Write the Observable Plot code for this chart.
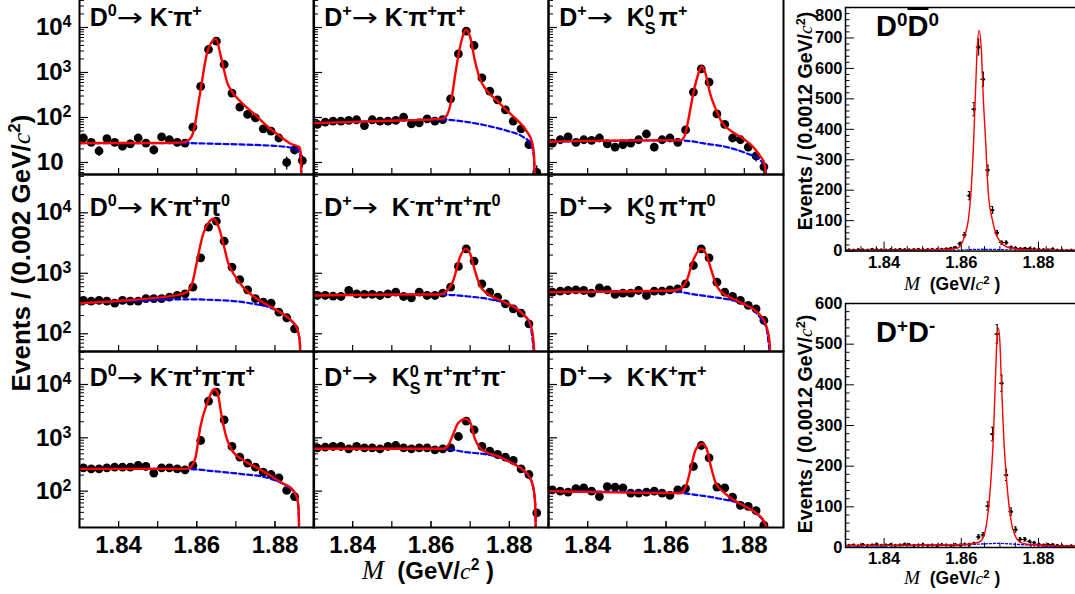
<!DOCTYPE html>
<html><head><meta charset="utf-8">
<script src="https://cdn.jsdelivr.net/npm/d3@7"></script>
<script src="https://cdn.jsdelivr.net/npm/@observablehq/plot@0.6"></script>
<style>
html,body{margin:0;padding:0;background:#fff;}
body{width:1075px;height:594px;overflow:hidden;position:relative;font-family:"Liberation Sans",Arial,sans-serif;}
.pan{position:absolute;}
.pan svg{display:block;overflow:visible;}
.lab{position:absolute;font-weight:bold;line-height:1;white-space:nowrap;color:#000;}
.lab sup{font-size:65%;vertical-align:baseline;position:relative;top:-0.58em;line-height:0;}
.arr{font-weight:normal;font-family:"DejaVu Sans",sans-serif;display:inline-block;transform:scaleX(1.25);margin:0 0.12em 0 0.08em;}
.it{font-family:"Liberation Serif",serif;font-style:italic;font-weight:normal;}
.stk{display:inline-block;position:relative;width:0.56em;height:0.7em;vertical-align:baseline;}
.stk .u,.stk .d{position:absolute;left:0;font-size:65%;line-height:1;}
.stk .u{bottom:6.5px;}
.stk .d{bottom:-10px;}
.rot{transform:translate(-50%,-50%) rotate(-90deg);}
.ov{text-decoration:overline;text-decoration-thickness:2px;}
</style></head><body>
<script>
// ---------- data ----------
const binsLeft = [1.831,1.833,1.835,1.837,1.839,1.841,1.843,1.845,1.847,1.849,1.851,1.853,1.855,1.857,1.859,1.861,1.863,1.865,1.867,1.869,1.871,1.873,1.875,1.877,1.879,1.881,1.883,1.885,1.887,1.889];

const c_D0_Kpi      = [35,28,18,34,28,23,26,35,27,19,37,32,28,27,61,489,3245,4960,1506,348,170,117,98,56,50,35,10,19,11,null];
const c_Dp_Kpipi    = [70,79,83,83,86,89,66,89,83,83,86,102,72,76,93,83,90,260,2600,8300,3980,760,385,247,148,83,56,25,6,null];
const c_Dp_KSpi     = [27,32,37,28,32,31,35,26,22,25,27,32,43,22,32,35,28,53,366,1205,610,120,70,35,32,22,14,8,null,null];
const c_D0_Kpipi0   = [356,347,356,347,321,356,347,347,380,380,380,404,430,458,590,1800,5800,7280,3400,1265,782,534,380,334,321,228,184,121,null,null];
const c_Dp_Kpipipi0 = [430,430,420,414,520,458,447,447,430,458,489,414,394,489,430,430,470,590,1300,2540,1590,670,489,404,313,259,220,146,null,null];
const c_Dp_KSpipi0  = [489,507,520,534,520,470,575,534,447,470,470,520,430,507,507,534,554,670,1346,2540,1800,714,489,414,356,294,259,166,null,null];
const c_D0_K3pi     = [274,262,262,274,282,282,282,303,290,218,274,274,262,251,303,891,4870,7180,2175,688,434,335,282,227,205,178,103,79,null,null];
const c_Dp_KS3pi    = [649,668,688,688,622,688,649,649,622,688,718,649,622,649,649,596,622,649,1059,2054,1413,688,562,487,434,376,262,205,39,null];
const c_Dp_KKpi     = [106,100,96,111,115,100,79,122,119,115,92,92,96,100,92,83,106,111,290,718,422,119,115,77,54,52,43,23,null,null];

const f_D0_Kpi = [[1.830,27],[1.850,27],[1.8565,28],[1.8582,33],[1.8594,60],[1.8603,180],[1.8611,480],[1.8628,3080],[1.8649,5600],[1.8662,2190],[1.8679,560],[1.8687,412],[1.8713,219],[1.8747,120],[1.8781,63],[1.8815,37],[1.8840,26],[1.8862,22],[1.8866,16],[1.8868,1]];
const b_D0_Kpi = [[1.830,27],[1.855,27],[1.865,26],[1.875,24.5],[1.881,23],[1.8845,21],[1.8860,18],[1.8866,12],[1.8869,1]];
const f_Dp_Kpipi = [[1.830,75],[1.852,86],[1.8625,93],[1.8638,105],[1.8650,200],[1.8664,1200],[1.8678,5140],[1.8689,8900],[1.8700,6100],[1.8712,1850],[1.8725,725],[1.8742,400],[1.8768,240],[1.8793,144],[1.8819,90],[1.8844,50],[1.8858,28],[1.8863,15],[1.8866,1]];
const b_Dp_Kpipi = [[1.830,75],[1.852,86],[1.8625,90],[1.869,80],[1.8742,66],[1.8793,51],[1.8835,37],[1.8855,26],[1.8862,15],[1.8868,1]];
const f_Dp_KSpi = [[1.830,29],[1.852,31],[1.8636,31],[1.8648,40],[1.8656,80],[1.8670,355],[1.8680,790],[1.8691,1360],[1.8701,950],[1.8712,355],[1.8725,170],[1.8742,80],[1.8771,47],[1.8797,34],[1.8823,22],[1.8840,14],[1.8852,9],[1.8857,2]];
const b_Dp_KSpi = [[1.830,29],[1.8636,31],[1.8704,26],[1.8755,22],[1.8805,16],[1.8839,11.5],[1.8853,8],[1.8858,2]];
const f_D0_Kpipi0 = [[1.830,321],[1.8439,365],[1.8558,447],[1.8575,489],[1.8588,670],[1.8601,1630],[1.8614,3960],[1.8631,7010],[1.8643,7960],[1.8656,5800],[1.8669,2880],[1.8681,1440],[1.8694,982],[1.8720,575],[1.8754,380],[1.8788,283],[1.8813,228],[1.8839,172],[1.8856,125],[1.8863,78],[1.8866,20]];
const b_D0_Kpipi0 = [[1.830,321],[1.8439,350],[1.8575,372],[1.8651,360],[1.8694,347],[1.8745,313],[1.8788,270],[1.8822,205],[1.8856,122],[1.8864,70],[1.8867,20]];
const f_Dp_Kpipipi0 = [[1.830,430],[1.852,447],[1.8623,447],[1.8640,507],[1.8657,762],[1.8674,1850],[1.8689,2540],[1.8700,2100],[1.8712,1115],[1.8725,630],[1.8742,470],[1.8768,379],[1.8793,321],[1.8819,259],[1.8840,195],[1.8853,150],[1.8861,85],[1.8866,30]];
const b_Dp_Kpipipi0 = [[1.830,430],[1.852,447],[1.8623,445],[1.8695,414],[1.8742,380],[1.8793,315],[1.8827,240],[1.8853,140],[1.8866,30]];
const f_Dp_KSpipi0 = [[1.830,489],[1.8619,520],[1.8636,554],[1.8653,762],[1.8670,1670],[1.8691,2540],[1.8704,1970],[1.8716,1115],[1.8729,630],[1.8750,447],[1.8771,379],[1.8797,313],[1.8822,259],[1.8843,195],[1.8856,135],[1.8865,68],[1.8867,20]];
const b_Dp_KSpipi0 = [[1.830,489],[1.8619,507],[1.8662,458],[1.8721,404],[1.8771,356],[1.8805,300],[1.8839,190],[1.8856,125],[1.8866,40]];
const f_D0_K3pi = [[1.830,262],[1.8575,262],[1.8588,303],[1.8597,434],[1.8609,1585],[1.8626,4340],[1.8645,8200],[1.8653,7000],[1.8664,2440],[1.8677,955],[1.8690,579],[1.8720,376],[1.8754,274],[1.8788,197],[1.8822,137],[1.8843,111],[1.8856,77],[1.8860,50],[1.8862,10]];
const b_D0_K3pi = [[1.830,262],[1.8575,260],[1.8643,237],[1.8711,211],[1.8780,178],[1.8831,122],[1.8852,89],[1.8860,50],[1.8863,10]];
const f_Dp_KS3pi = [[1.830,622],[1.8631,622],[1.8644,718],[1.8657,1190],[1.8669,1880],[1.8688,2270],[1.8700,1966],[1.8712,955],[1.8725,649],[1.8742,538],[1.8776,434],[1.8810,325],[1.8835,251],[1.8852,183],[1.8861,119],[1.8866,58],[1.8868,10]];
const b_Dp_KS3pi = [[1.830,622],[1.8631,622],[1.8690,538],[1.8742,487],[1.8793,387],[1.8835,245],[1.8857,150],[1.8866,58],[1.8868,10]];
const f_Dp_KKpi = [[1.830,100],[1.8432,96],[1.8636,92],[1.8645,100],[1.8653,137],[1.8664,282],[1.8675,579],[1.8692,772],[1.8703,649],[1.8713,325],[1.8726,148],[1.8747,96],[1.8772,69],[1.8806,50],[1.8832,38],[1.8849,28],[1.8856,21],[1.8858,8]];
const b_Dp_KKpi = [[1.830,100],[1.8636,92],[1.8687,83],[1.8738,72],[1.8789,58],[1.8832,37],[1.8853,24],[1.8857,8]];

const titlesHTML = [
 'D<sup>0</sup><span class="arr">→</span> K<sup>-</sup>π<sup>+</sup>',
 'D<sup>+</sup><span class="arr">→</span> K<sup>-</sup>π<sup>+</sup>π<sup>+</sup>',
 'D<sup>+</sup><span class="arr">→</span>&nbsp; K<span class="stk"><span class="u">0</span><span class="d">S</span></span>π<sup>+</sup>',
 'D<sup>0</sup><span class="arr">→</span> K<sup>-</sup>π<sup>+</sup>π<sup>0</sup>',
 'D<sup>+</sup><span class="arr">→</span>&nbsp; K<sup>-</sup>π<sup>+</sup>π<sup>+</sup>π<sup>0</sup>',
 'D<sup>+</sup><span class="arr">→</span>&nbsp; K<span class="stk"><span class="u">0</span><span class="d">S</span></span>π<sup>+</sup>π<sup>0</sup>',
 'D<sup>0</sup><span class="arr">→</span> K<sup>-</sup>π<sup>+</sup>π<sup>-</sup>π<sup>+</sup>',
 'D<sup>+</sup><span class="arr">→</span>&nbsp; K<span class="stk"><span class="u">0</span><span class="d">S</span></span>π<sup>+</sup>π<sup>+</sup>π<sup>-</sup>',
 'D<sup>+</sup><span class="arr">→</span>&nbsp; K<sup>-</sup>K<sup>+</sup>π<sup>+</sup>'
];

const binsRight = [1.8309,1.8321,1.8333,1.8345,1.8357,1.8369,1.8381,1.8393,1.8405,1.8417,1.8429,1.8441,1.8453,1.8465,1.8477,1.8489,1.8501,1.8513,1.8525,1.8537,1.8549,1.8561,1.8573,1.8585,1.8597,1.8609,1.8621,1.8633,1.8645,1.8657,1.8669,1.8681,1.8693,1.8705,1.8717,1.8729,1.8741,1.8753,1.8765,1.8777,1.8789,1.8801,1.8813,1.8825,1.8837,1.8849,1.8861,1.8873,1.8885,1.8897];
const c_D0D0bar = [4,3,5,4,3,6,5,4,3,5,4,6,5,4,5,6,4,5,6,5,6,7,9,12,24,53,182,466,670,564,266,135,60,28,28,13,10,8,9,8,7,6,5,4,7,3,3,2,3,2];
const c_DpDm = [5,6,4,7,5,6,8,5,6,7,5,6,8,7,5,6,7,5,6,5,7,6,5,7,6,8,7,10,26,31,102,279,525,404,178,88,44,20,20,15,12,8,6,7,7,5,4,3,4,3];
const f_D0D0bar = [[1.830,3],[1.850,3.5],[1.856,5],[1.8591,10],[1.8603,30],[1.8610,55],[1.8618,100],[1.8625,190],[1.8632,362],[1.8637,530],[1.8641,660],[1.8646,725],[1.8652,660],[1.8656,530],[1.8663,362],[1.8670,190],[1.8681,100],[1.8690,55],[1.8702,30],[1.8726,10],[1.876,5],[1.880,3.5],[1.890,2.5]];
const b_D0D0bar = [[1.830,1],[1.850,1.5],[1.858,2.5],[1.862,4.5],[1.865,6],[1.868,5.5],[1.872,4],[1.876,2.5],[1.880,1.5],[1.890,0.5]];
const f_DpDm = [[1.830,5],[1.855,6],[1.862,8],[1.8647,14],[1.8659,30],[1.8665,55],[1.8671,100],[1.8677,170],[1.8683,270],[1.8689,430],[1.8692,505],[1.8696,540],[1.8700,505],[1.8703,430],[1.8710,270],[1.8717,170],[1.8724,100],[1.8731,55],[1.8739,30],[1.8752,13],[1.877,8],[1.882,5],[1.890,3]];
const b_DpDm = [[1.830,4],[1.850,5],[1.860,6.5],[1.865,8.5],[1.8695,10],[1.874,8],[1.878,5.5],[1.882,3],[1.890,1]];

const yTitleLeft = 'Events / (0.002 GeV/<span class="it">c</span><sup>2</sup>)';
const yTitleRight = 'Events / (0.0012 GeV/<span class="it">c</span><sup>2</sup>)';
const xTitle = '<span class="it" style="font-size:1.1em">M</span>&nbsp; (GeV/<span class="it">c</span><sup>2</sup> )';

// ---------- layout ----------
const NS = "http://www.w3.org/2000/svg";
const FONT = "'Liberation Sans', Arial, sans-serif";
const COLS = [{x0:78.7,w:234.6},{x0:313.3,w:235},{x0:548.3,w:235}];
const ROWS = [{y0:-2,h:176,dom:[5.41,44100],base:26},{y0:174,h:177,dom:[51,42950],base:216},{y0:351,h:176,dom:[20.8,41600],base:386}];
const panels = [
  {counts:c_D0_Kpi, fit:f_D0_Kpi, bkg:b_D0_Kpi},
  {counts:c_Dp_Kpipi, fit:f_Dp_Kpipi, bkg:b_Dp_Kpipi},
  {counts:c_Dp_KSpi, fit:f_Dp_KSpi, bkg:b_Dp_KSpi},
  {counts:c_D0_Kpipi0, fit:f_D0_Kpipi0, bkg:b_D0_Kpipi0},
  {counts:c_Dp_Kpipipi0, fit:f_Dp_Kpipipi0, bkg:b_Dp_Kpipipi0},
  {counts:c_Dp_KSpipi0, fit:f_Dp_KSpipi0, bkg:b_Dp_KSpipi0},
  {counts:c_D0_K3pi, fit:f_D0_K3pi, bkg:b_D0_K3pi},
  {counts:c_Dp_KS3pi, fit:f_Dp_KS3pi, bkg:b_Dp_KS3pi},
  {counts:c_Dp_KKpi, fit:f_Dp_KKpi, bkg:b_Dp_KKpi}
];

function mount(svg, left, top) {
  const d = document.createElement("div");
  d.className = "pan"; d.style.left = left + "px"; d.style.top = top + "px";
  d.appendChild(svg); document.body.appendChild(d);
}
function label(html, x, baseline, size) {
  const d = document.createElement("div");
  d.className = "lab"; d.innerHTML = html;
  d.style.fontSize = size + "px";
  d.style.left = x + "px";
  d.style.top = (baseline - 0.8465 * size) + "px";
  document.body.appendChild(d);
  return d;
}
function rotLabel(html, cx, cy, size) {
  const d = document.createElement("div");
  d.className = "lab rot"; d.innerHTML = html;
  d.style.fontSize = size + "px";
  d.style.left = cx + "px"; d.style.top = cy + "px";
  document.body.appendChild(d);
}
function supFix(svg) {
  svg.querySelectorAll("text").forEach(t => {
    const s = t.textContent;
    if (s.indexOf("^") > 0) {
      const [b, e] = s.split("^");
      while (t.firstChild) t.removeChild(t.firstChild);
      const a = document.createElementNS(NS, "tspan"); a.textContent = b;
      const c = document.createElementNS(NS, "tspan"); c.textContent = e;
      c.setAttribute("dy", "-8"); c.setAttribute("font-size", "16");
      t.append(a, c);
    } else if (s === "10") t.setAttribute("dx", "-8");
  });
}
const styleSvg = {background:"transparent", overflow:"visible", fontFamily:FONT, maxWidth:"none"};

function logPanel(p, ci, ri) {
  const C = COLS[ci], R = ROWS[ri];
  const mL = 80, mR = 4, mT = 4, mB = 50;
  const [lo, hi] = R.dom;
  const pts = binsLeft.map((m, i) => ({m, n: p.counts[i]})).filter(d => d.n != null);
  const majors = [10, 100, 1000, 10000].filter(v => v >= lo && v <= hi);
  const minors = [];
  for (let e = 0; e < 5; e++) for (let k = 2; k <= 9; k++) { const v = k * Math.pow(10, e); if (v > lo && v < hi) minors.push(v); }
  const marks = [
    Plot.axisY({ticks: minors, tickSize: -5, fill: null, label: null, strokeWidth: 1}),
    Plot.axisY({ticks: majors, tickSize: -9, tickPadding: 17, label: null, strokeWidth: 1.2,
      fill: ci === 0 ? "black" : null, fontSize: 24, fontWeight: "bold",
      tickFormat: v => { const e = Math.round(Math.log10(v)); return e === 1 ? "10" : "10^" + e; }}),
    Plot.axisX({ticks: [1.83,1.84,1.85,1.86,1.87,1.88,1.89], tickSize: -6, fill: null, label: null, strokeWidth: 1.2})
  ];
  if (ri === 2) marks.push(Plot.axisX({ticks: [1.84,1.86,1.88], tickSize: -6, tickPadding: 14, label: null, fontSize: 24, fontWeight: "bold", tickFormat: d => d.toFixed(2)}));
  marks.push(
    Plot.ruleX(pts, {x: "m", y1: d => Math.max(d.n - Math.sqrt(d.n), lo / 2), y2: d => d.n + Math.sqrt(d.n), stroke: "black", strokeWidth: 1.3, clip: true}),
    Plot.dot(pts, {x: "m", y: "n", r: 4.4, fill: "black", stroke: "none", clip: true}),
    Plot.line(p.bkg, {x: d => d[0], y: d => d[1], stroke: "#0000ff", strokeWidth: 2.2, strokeDasharray: "5,3", curve: "monotone-x", clip: true}),
    Plot.line(p.fit, {x: d => d[0], y: d => d[1], stroke: "#ff0000", strokeWidth: 2.4, curve: "monotone-x", clip: true}),
    Plot.frame({stroke: "black", strokeWidth: 2})
  );
  const svg = Plot.plot({width: C.w + mL + mR, height: R.h + mT + mB, marginLeft: mL, marginRight: mR, marginTop: mT, marginBottom: mB,
    style: styleSvg, x: {domain: [1.83, 1.89], label: null}, y: {type: "log", domain: [lo, hi], label: null}, marks});
  supFix(svg);
  mount(svg, C.x0 - mL, R.y0 - mT);
}

function linPanel(counts, fit, bkg, y0, h, ymax) {
  const x0 = 845, w = 231.6, mL = 60, mR = 2, mT = 4, mB = 45;
  const pts = binsRight.map((m, i) => ({m, n: counts[i]}));
  const majors = d3.range(0, ymax + 1, 100);
  const minors = d3.range(0, ymax + 1, 20).filter(v => v % 100 !== 0);
  const xmin = d3.range(1.830, 1.8901, 0.004).map(v => +v.toFixed(3));
  const svg = Plot.plot({width: w + mL + mR, height: h + mT + mB, marginLeft: mL, marginRight: mR, marginTop: mT, marginBottom: mB,
    style: styleSvg, x: {domain: [1.83, 1.89], label: null}, y: {domain: [0, ymax], label: null},
    marks: [
      Plot.axisY({ticks: minors, tickSize: -4.5, fill: null, label: null}),
      Plot.axisY({ticks: majors, tickSize: -9, tickPadding: 12, label: null, fontSize: 16.5, fontWeight: "bold", tickFormat: d => String(d)}),
      Plot.axisX({ticks: xmin, tickSize: -4.5, fill: null, label: null}),
      Plot.axisX({ticks: [1.84,1.86,1.88], tickSize: -9, tickPadding: 14, label: null, fontSize: 16.5, fontWeight: "bold", tickFormat: d => d.toFixed(2)}),
      Plot.ruleX(pts, {x: "m", y1: d => Math.max(0, d.n - Math.sqrt(d.n)), y2: d => d.n + Math.sqrt(d.n), stroke: "black", strokeWidth: 1.1, clip: true}),
      Plot.ruleY(pts, {y: "n", x1: d => d.m - 0.0006, x2: d => d.m + 0.0006, stroke: "black", strokeWidth: 1.1, clip: true}),
      Plot.ruleY(pts.filter(d => d.n > 15), {y: d => d.n + Math.sqrt(d.n), x1: d => d.m - 0.0003, x2: d => d.m + 0.0003, stroke: "black", strokeWidth: 1, clip: true}),
      Plot.ruleY(pts.filter(d => d.n > 15), {y: d => d.n - Math.sqrt(d.n), x1: d => d.m - 0.0003, x2: d => d.m + 0.0003, stroke: "black", strokeWidth: 1, clip: true}),
      Plot.dot(pts, {x: "m", y: "n", r: 1.6, fill: "black", stroke: "none", clip: true}),
      Plot.line(bkg, {x: d => d[0], y: d => d[1], stroke: "#0000ff", strokeWidth: 1.3, strokeDasharray: "2,2", curve: "monotone-x", clip: true}),
      Plot.line(fit, {x: d => d[0], y: d => d[1], stroke: "#ff0000", strokeWidth: 1.4, curve: "monotone-x", clip: true}),
      Plot.frame({stroke: "black", strokeWidth: 1.5})
    ]});
  // keep the topmost tick label fully inside the page
  if (y0 < 10) svg.querySelectorAll("text").forEach(t => { if (t.textContent === String(ymax)) t.setAttribute("dy", "0.5em"); });
  mount(svg, x0 - mL, y0 - mT);
}

panels.forEach((p, i) => logPanel(p, i % 3, Math.floor(i / 3)));
linPanel(c_D0D0bar, f_D0D0bar, b_D0D0bar, 7, 243.6, 800);
linPanel(c_DpDm, f_DpDm, b_DpDm, 302.7, 244, 600);

// panel titles
titlesHTML.forEach((t, i) => {
  const C = COLS[i % 3], R = ROWS[Math.floor(i / 3)];
  label(t, C.x0 + 11, R.base, 25);
});
label('D<sup>0</sup><span class="ov">D</span><sup>0</sup>', 876, 37, 29);
label('D<sup>+</sup>D<sup>-</sup>', 876, 343, 29);

// axis titles
rotLabel(yTitleLeft, 21, 253, 26);
label(xTitle, 362, 577, 24);
rotLabel(yTitleRight, 806, 121, 19.5);
rotLabel(yTitleRight, 806, 424, 19.5);
label(xTitle, 904, 289, 17.5);
label(xTitle, 904, 583, 17.5);
</script>
</body></html>
